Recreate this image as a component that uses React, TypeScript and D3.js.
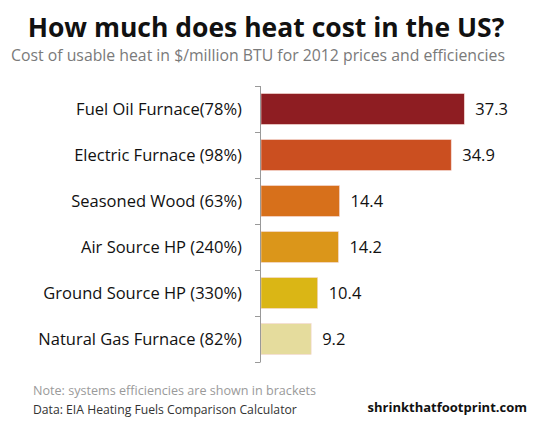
import React from 'react';
import * as d3 from 'd3';

const categories = [
  'Fuel Oil Furnace(78%)',
  'Electric Furnace (98%)',
  'Seasoned Wood (63%)',
  'Air Source HP (240%)',
  'Ground Source HP (330%)',
  'Natural Gas Furnace (82%)',
];
const values = [37.3, 34.9, 14.4, 14.2, 10.4, 9.2];
const colors = ['#8e1d22', '#cb4f20', '#d7701b', '#db961a', '#dab615', '#e5dc9d'];

const width = 550;
const height = 422;

const App: React.FC = () => {
  const x = d3.scaleLinear().domain([0, 40]).range([261, 479]);
  const y = d3
    .scaleBand<string>()
    .domain(categories)
    .range([86, 362])
    .paddingInner(0.33)
    .paddingOuter(0.165);

  const step = y.step();
  const axisTop = y.range()[0];
  const axisBottom = y.range()[1];
  // Excel-style ticks sit between categories
  const tickYs = d3.range(categories.length + 1).map(i => axisTop + i * step);

  return (
    <div>
      <style>{`body{margin:0}`}</style>
      <svg width={width} height={height} style={{ display: 'block', background: '#fff' }}>
        {/* title */}
        <text
          x={266}
          y={37}
          textAnchor="middle"
          style={{ fontFamily: 'Open Sans', fontWeight: 'bold', fontSize: 26.5, fill: '#111' }}
        >
          How much does heat cost in the US?
        </text>
        <text
          x={258}
          y={61}
          textAnchor="middle"
          style={{ fontFamily: 'Open Sans', fontSize: 15.8, fill: '#7a7a7a' }}
        >
          Cost of usable heat in $/million BTU for 2012 prices and efficiencies
        </text>

        {/* bars */}
        {categories.map((c, i) => (
          <g key={c}>
            <rect
              x={x(0)}
              y={y(c)}
              width={x(values[i]) - x(0)}
              height={y.bandwidth()}
              fill={colors[i]}
              stroke="#f3d6cf"
              strokeWidth={0.6}
            />
            <text
              x={x(values[i]) + 11}
              y={(y(c) ?? 0) + y.bandwidth() / 2}
              dy="0.35em"
              style={{ fontFamily: 'Open Sans', fontSize: 16.5, fill: '#111' }}
            >
              {values[i].toFixed(1)}
            </text>
            <text
              x={242}
              y={(y(c) ?? 0) + y.bandwidth() / 2}
              dy="0.35em"
              textAnchor="end"
              style={{ fontFamily: 'Open Sans', fontSize: 16.5, fill: '#111' }}
            >
              {c}
            </text>
          </g>
        ))}

        {/* category axis */}
        <line x1={260.5} x2={260.5} y1={axisTop} y2={axisBottom} stroke="#999" strokeWidth={1} />
        {tickYs.map((t, i) => (
          <line key={i} x1={255} x2={260.5} y1={t + 0.5} y2={t + 0.5} stroke="#999" strokeWidth={1} />
        ))}

        {/* footer */}
        <text x={33} y={395} style={{ fontFamily: 'Open Sans', fontSize: 12.6, fill: '#9a9a9a' }}>
          Note: systems efficiencies are shown in brackets
        </text>
        <text x={33} y={414} style={{ fontFamily: 'Open Sans', fontSize: 12.2, fill: '#333' }}>
          Data: EIA Heating Fuels Comparison Calculator
        </text>
        <text
          x={527}
          y={412}
          textAnchor="end"
          style={{ fontFamily: 'Open Sans', fontWeight: 'bold', fontSize: 13, fill: '#111' }}
        >
          shrinkthatfootprint.com
        </text>
      </svg>
    </div>
  );
};

export default App;
